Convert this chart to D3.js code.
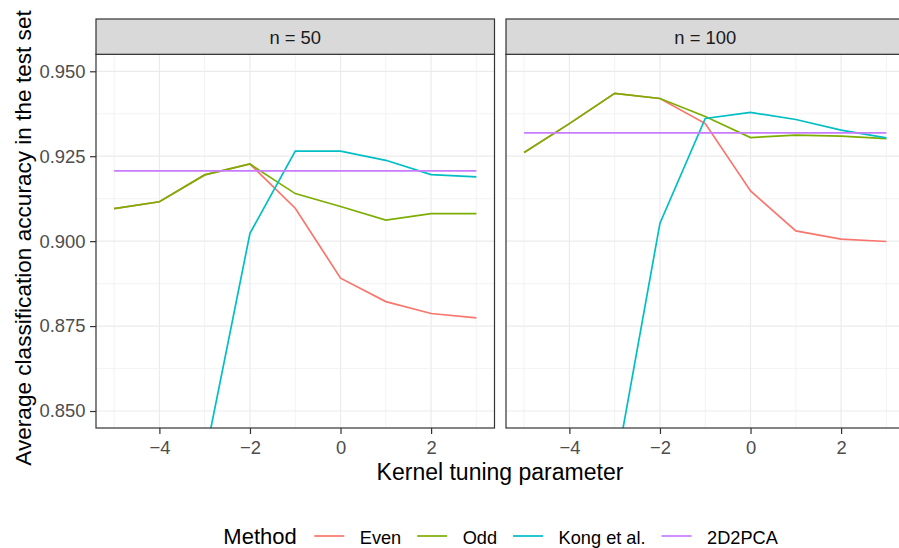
<!DOCTYPE html>
<html>
<head>
<meta charset="utf-8">
<script src="https://cdn.jsdelivr.net/npm/d3@7"></script>
<style>
  body { margin: 0; background: #fff; }
  svg { display: block; font-family: "Liberation Sans", Arial, sans-serif; }
</style>
</head>
<body>
<svg id="chart" width="899" height="548"></svg>
<script>
// kernel tuning parameter (x)
var lambda = [-5, -4, -3, -2, -1, 0, 1, 2, 3];

// n = 50
var even50  = [0.9096, 0.9116, 0.9195, 0.9227, 0.9097, 0.8891, 0.8822, 0.8787, 0.8774];
var odd50   = [0.9096, 0.9116, 0.9195, 0.9227, 0.9140, 0.9102, 0.9062, 0.9081, 0.9081];
var kong50  = [null, null, 0.8359, 0.9023, 0.9265, 0.9265, 0.9238, 0.9196, 0.9189];
var pca50   = [0.9207, 0.9207, 0.9207, 0.9207, 0.9207, 0.9207, 0.9207, 0.9207, 0.9207];

// n = 100
var even100 = [0.9261, 0.9346, 0.9435, 0.9420, 0.9346, 0.9148, 0.9030, 0.9006, 0.8999];
var odd100  = [0.9261, 0.9346, 0.9435, 0.9420, 0.9367, 0.9305, 0.9312, 0.9309, 0.9302];
var kong100 = [null, null, 0.8313, 0.9053, 0.9361, 0.9379, 0.9358, 0.9327, 0.9304];
var pca100  = [0.9319, 0.9319, 0.9319, 0.9319, 0.9319, 0.9319, 0.9319, 0.9319, 0.9319];

var methods = ["Even", "Odd", "Kong et al.", "2D2PCA"];
var colors  = ["#F8766D", "#7CAE00", "#00BFC4", "#C77CFF"];
var panels  = ["n = 50", "n = 100"];
var yTicks  = [0.850, 0.875, 0.900, 0.925, 0.950];
var yMinor  = [0.8625, 0.8875, 0.9125, 0.9375];
var xTicks  = [-4, -2, 0, 2];
var xMinor  = [-5, -3, -1, 1, 3];

var series = [
  [even50, odd50, kong50, pca50],
  [even100, odd100, kong100, pca100]
];

var svg = d3.select("#chart");
var font = '"Liberation Sans", Arial, sans-serif';

var stripTop = 19, panelTop = 54.3, panelBot = 428;
var panelW = 398.5;
var panelLeft = [96, 506];

var y = d3.scaleLinear().domain([0.845, 0.955]).range([panelBot, panelTop]);

panels.forEach(function(label, p){
  var x0 = panelLeft[p];
  var x = d3.scaleLinear().domain([-5.4, 3.4]).range([x0, x0 + panelW]);
  var g = svg.append("g");

  // panel background + grid
  g.append("rect")
    .attr("x", x0).attr("y", panelTop)
    .attr("width", panelW).attr("height", panelBot - panelTop)
    .attr("fill", "#fff");

  g.selectAll(".ymin").data(yMinor).enter().append("line")
    .attr("x1", x0).attr("x2", x0 + panelW)
    .attr("y1", y).attr("y2", y)
    .attr("stroke", "#EBEBEB").attr("stroke-width", 0.6);
  g.selectAll(".xmin").data(xMinor).enter().append("line")
    .attr("x1", x).attr("x2", x)
    .attr("y1", panelTop).attr("y2", panelBot)
    .attr("stroke", "#EBEBEB").attr("stroke-width", 0.6);
  g.selectAll(".ymaj").data(yTicks).enter().append("line")
    .attr("x1", x0).attr("x2", x0 + panelW)
    .attr("y1", y).attr("y2", y)
    .attr("stroke", "#EBEBEB").attr("stroke-width", 1.2);
  g.selectAll(".xmaj").data(xTicks).enter().append("line")
    .attr("x1", x).attr("x2", x)
    .attr("y1", panelTop).attr("y2", panelBot)
    .attr("stroke", "#EBEBEB").attr("stroke-width", 1.2);

  // clip
  svg.append("clipPath").attr("id", "clip" + p)
    .append("rect")
    .attr("x", x0).attr("y", panelTop)
    .attr("width", panelW).attr("height", panelBot - panelTop);

  var line = d3.line()
    .defined(function(d){ return d[1] != null; })
    .x(function(d){ return x(d[0]); })
    .y(function(d){ return y(d[1]); });

  var lines = g.append("g").attr("clip-path", "url(#clip" + p + ")");
  series[p].forEach(function(vals, m){
    lines.append("path")
      .datum(lambda.map(function(l, i){ return [l, vals[i]]; }))
      .attr("d", line)
      .attr("fill", "none")
      .attr("stroke", colors[m])
      .attr("stroke-width", 1.7);
  });

  // panel border
  g.append("rect")
    .attr("x", x0).attr("y", panelTop)
    .attr("width", panelW).attr("height", panelBot - panelTop)
    .attr("fill", "none").attr("stroke", "#333333").attr("stroke-width", 1.2);

  // strip
  g.append("rect")
    .attr("x", x0).attr("y", stripTop)
    .attr("width", panelW).attr("height", panelTop - stripTop)
    .attr("fill", "#D9D9D9").attr("stroke", "#333333").attr("stroke-width", 1.2);
  g.append("text")
    .attr("x", x0 + panelW / 2).attr("y", 44.3)
    .attr("text-anchor", "middle")
    .attr("font-size", "18.4px").attr("fill", "#1A1A1A")
    .text(label);

  // x axis
  var xAxis = g.append("g")
    .attr("transform", "translate(0," + panelBot + ")")
    .call(d3.axisBottom(x).tickValues(xTicks).tickSize(6).tickPadding(5));
  xAxis.select(".domain").remove();
  xAxis.selectAll(".tick line").attr("stroke", "#333333").attr("stroke-width", 1.2);
  xAxis.selectAll(".tick text")
    .attr("fill", "#4D4D4D").attr("font-size", "18.4px").attr("font-family", font)
    .attr("dy", null).attr("y", 25.5);

  // y axis only on first panel
  if (p === 0) {
    var yAxis = g.append("g")
      .attr("transform", "translate(" + x0 + ",0)")
      .call(d3.axisLeft(y).tickValues(yTicks).tickFormat(d3.format(".3f")).tickSize(6).tickPadding(4.5));
    yAxis.select(".domain").remove();
    yAxis.selectAll(".tick line").attr("stroke", "#333333").attr("stroke-width", 1.2);
    yAxis.selectAll(".tick text")
      .attr("fill", "#4D4D4D").attr("font-size", "18.4px").attr("font-family", font);
  }
});

// axis titles
svg.append("text")
  .attr("x", 500).attr("y", 480)
  .attr("text-anchor", "middle")
  .attr("font-size", "23px").attr("fill", "#000")
  .text("Kernel tuning parameter");

svg.append("text")
  .attr("transform", "translate(30.5,238) rotate(-90)")
  .attr("text-anchor", "middle")
  .attr("font-size", "22.6px").attr("fill", "#000")
  .text("Average classification accuracy in the test set");

// legend
var legBase = 543.5, legKeyY = 536;
var legend = svg.append("g");
var title = legend.append("text")
  .attr("x", 0).attr("y", legBase)
  .attr("font-size", "22px").attr("fill", "#000")
  .text("Method");
var cx = title.node().getComputedTextLength() + 17.5;
methods.forEach(function(m, i){
  legend.append("line")
    .attr("x1", cx).attr("x2", cx + 30)
    .attr("y1", legKeyY).attr("y2", legKeyY)
    .attr("stroke", colors[i]).attr("stroke-width", 1.7);
  cx += 30 + 15.5;
  var t = legend.append("text")
    .attr("x", cx).attr("y", legBase)
    .attr("font-size", "18.2px").attr("fill", "#000")
    .text(m);
  cx += t.node().getComputedTextLength() + 16;
});
var legW = cx - 16;
legend.attr("transform", "translate(" + (500.6 - legW / 2) + ",0)");
</script>
</body>
</html>
